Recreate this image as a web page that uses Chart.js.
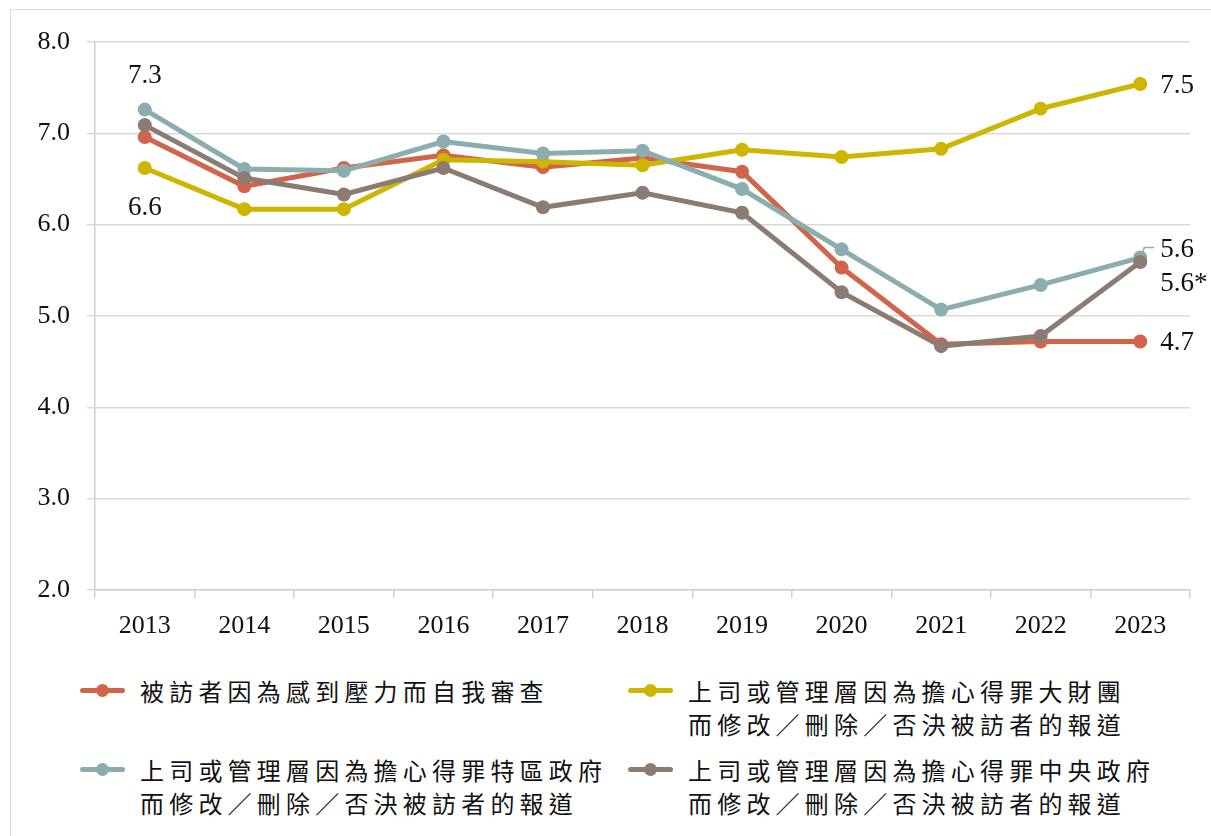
<!DOCTYPE html>
<html>
<head>
<meta charset="utf-8">
<script src="https://cdn.jsdelivr.net/npm/chart.js@4"></script>
<style>
    body { margin: 0; background: #fff; width: 1211px; height: 836px; overflow: hidden; position: relative; }
    #frame { position: absolute; left: 10px; top: 9px; width: 1220px; height: 840px; border: 1px solid #d9d9d9; box-sizing: border-box; }
    #wrap { position: absolute; left: 0; top: 0; width: 1211px; height: 650px; }
    .leg { position: absolute; font-family: "Noto Sans CJK TC", sans-serif; font-size: 24px; letter-spacing: 5.2px; line-height: 33px; color: #111; }
    .mark { position: absolute; width: 45px; height: 5px; border-radius: 3px; }
    .mark span { position: absolute; left: 16px; top: -4px; width: 13px; height: 13px; border-radius: 50%; }
</style>
</head>
<body>
<div id="frame"></div>
<div id="wrap"><canvas id="lineChart" width="1211" height="650"></canvas></div>
<div id="legend"></div>

<script>
// Data
const years = ['2013', '2014', '2015', '2016', '2017', '2018', '2019', '2020', '2021', '2022', '2023'];

const selfCensor = [6.96, 6.42, 6.62, 6.76, 6.63, 6.73, 6.58, 5.53, 4.69, 4.72, 4.72];
const bigBusiness = [6.62, 6.17, 6.17, 6.71, 6.69, 6.65, 6.82, 6.74, 6.83, 7.27, 7.54];
const sarGov = [7.26, 6.61, 6.59, 6.91, 6.78, 6.81, 6.39, 5.73, 5.07, 5.34, 5.64];
const centralGov = [7.09, 6.51, 6.33, 6.62, 6.19, 6.35, 6.13, 5.26, 4.67, 4.78, 5.59];

const seriesNames = [
    ['被訪者因為感到壓力而自我審查'],
    ['上司或管理層因為擔心得罪大財團', '而修改／刪除／否決被訪者的報道'],
    ['上司或管理層因為擔心得罪特區政府', '而修改／刪除／否決被訪者的報道'],
    ['上司或管理層因為擔心得罪中央政府', '而修改／刪除／否決被訪者的報道']
];
const seriesColors = ['#D2644B', '#CDB500', '#8BADAD', '#8C7B70'];

// value labels: [dataset, point index, text]
const valueLabels = [
    [2, 0, '7.3'],
    [1, 0, '6.6'],
    [1, 10, '7.5'],
    [2, 10, '5.6'],
    [3, 10, '5.6*'],
    [0, 10, '4.7']
];

// where each label sits relative to its point
const labelOffsets = [
    { dx: 0, dy: -34, align: 'center' },
    { dx: 0, dy: 40, align: 'center' },
    { dx: 20, dy: 2, align: 'left' },
    { dx: 20, dy: -8, align: 'left' },
    { dx: 20, dy: 22, align: 'left' },
    { dx: 20, dy: 1, align: 'left' }
];

const serif = '"Liberation Serif", "Times New Roman", serif';

const labelPlugin = {
    id: 'valueLabels',
    afterDatasetsDraw(chart) {
        const ctx = chart.ctx;
        ctx.save();
        ctx.font = '27px ' + serif;
        ctx.fillStyle = '#111';
        ctx.textBaseline = 'middle';
        valueLabels.forEach((lab, i) => {
            const pt = chart.getDatasetMeta(lab[0]).data[lab[1]];
            const off = labelOffsets[i];
            ctx.textAlign = off.align;
            ctx.fillText(lab[2], pt.x + off.dx, pt.y + off.dy);
        });
        // small leader line for the teal 2023 label
        const tp = chart.getDatasetMeta(2).data[10];
        ctx.strokeStyle = '#a6a6a6';
        ctx.lineWidth = 1.5;
        ctx.beginPath();
        ctx.moveTo(tp.x + 2, tp.y - 2);
        ctx.lineTo(tp.x + 4, tp.y - 10);
        ctx.lineTo(tp.x + 14, tp.y - 10);
        ctx.stroke();
        ctx.restore();
    }
};

const allSeries = [selfCensor, bigBusiness, sarGov, centralGov];

const ctx = document.getElementById('lineChart').getContext('2d');
const lineChart = new Chart(ctx, {
    type: 'line',
    data: {
        labels: years,
        datasets: allSeries.map((vals, i) => ({
            label: seriesNames[i].join(''),
            data: vals,
            borderColor: seriesColors[i],
            backgroundColor: seriesColors[i],
            borderWidth: 5,
            pointRadius: 7,
            pointHoverRadius: 7,
            pointBorderWidth: 0,
            tension: 0,
            order: 3 - i
        }))
    },
    options: {
        responsive: false,
        animation: false,
        layout: { padding: { top: 42, right: 21, bottom: 0, left: 0 } },
        plugins: {
            legend: { display: false },
            tooltip: { enabled: false }
        },
        scales: {
            x: {
                offset: true,
                grid: {
                    offset: true,
                    drawOnChartArea: false,
                    drawTicks: true,
                    tickLength: 8,
                    color: '#d0d0d0',
                    lineWidth: 1.5
                },
                border: { color: '#d0d0d0', width: 1.5 },
                ticks: {
                    color: '#111',
                    font: { family: serif, size: 26 },
                    padding: 13,
                    maxRotation: 0
                },
                afterFit(scale) { scale.height = 60; }
            },
            y: {
                min: 2,
                max: 8,
                ticks: {
                    stepSize: 1,
                    color: '#111',
                    font: { family: serif, size: 26 },
                    padding: 17,
                    callback: v => v.toFixed(1)
                },
                grid: {
                    color: '#d9d9d9',
                    lineWidth: 1.5,
                    tickLength: 8
                },
                border: { color: '#d0d0d0', width: 1.5 },
                afterFit(scale) { scale.width = 95; }
            }
        }
    },
    plugins: [labelPlugin]
});

// HTML legend built from the series arrays
const legendSpots = [[80, 674], [628, 674], [80, 753], [628, 753]];
const legendDiv = document.getElementById('legend');
seriesNames.forEach((lines, i) => {
    const [x, y] = legendSpots[i];
    const mark = document.createElement('div');
    mark.className = 'mark';
    mark.style.left = x + 'px';
    mark.style.top = (y + 14) + 'px';
    mark.style.background = seriesColors[i];
    mark.innerHTML = '<span style="background:' + seriesColors[i] + '"></span>';
    legendDiv.appendChild(mark);

    const txt = document.createElement('div');
    txt.className = 'leg';
    txt.style.left = (x + 60) + 'px';
    txt.style.top = y + 'px';
    txt.innerHTML = lines.join('<br>');
    legendDiv.appendChild(txt);
});
</script>
</body>
</html>
